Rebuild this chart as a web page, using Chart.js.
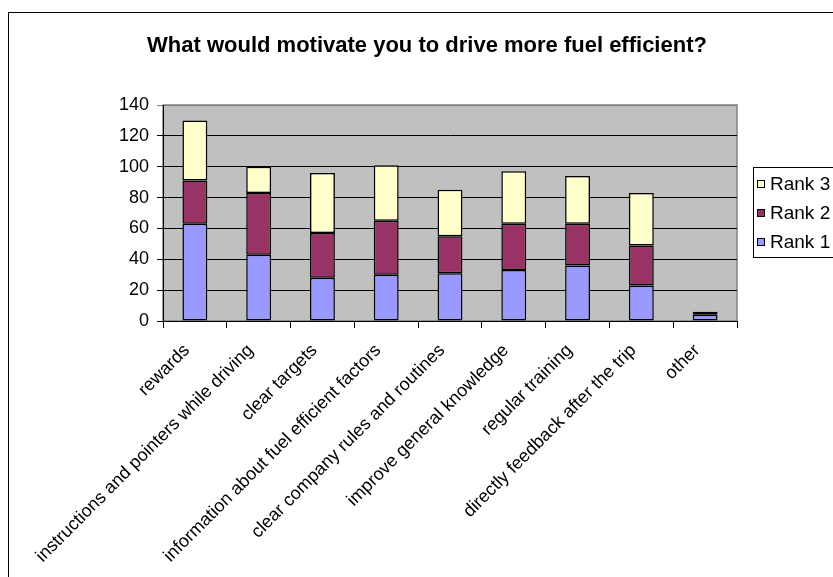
<!DOCTYPE html>
<html>
<head>
<meta charset="utf-8">
<script src="https://cdn.jsdelivr.net/npm/chart.js@4/dist/chart.umd.min.js"></script>
<style>
  html, body { margin: 0; padding: 0; background: #fff; }
  canvas { display: block; }
</style>
</head>
<body>
<canvas id="c" width="833" height="577"></canvas>
<script>
// Survey answers: how many drivers ranked each motivator 1st, 2nd or 3rd
const categories = [
  'rewards',
  'instructions and pointers while driving',
  'clear targets',
  'information about fuel efficient factors',
  'clear company rules and routines',
  'improve general knowledge',
  'regular training',
  'directly feedback after the trip',
  'other'
];
const rank1 = [63, 43, 28, 30, 31, 33, 36, 23, 4];
const rank2 = [28, 40, 29, 35, 24, 30, 27, 26, 2];
const rank3 = [39, 17, 39, 36, 30, 34, 31, 34, 0];
const seriesNames = ['Rank 1', 'Rank 2', 'Rank 3'];
const chartTitle = 'What would motivate you to drive more fuel efficient?';
const yMax = 140;
const yStep = 20;

const FONT = 'Liberation Sans, Arial, sans-serif';

// White page, grey plot area and the thin frame around the whole chart
const backdrop = {
  id: 'backdrop',
  beforeDraw(chart) {
    const { ctx, chartArea: a } = chart;
    ctx.save();
    ctx.fillStyle = '#fff';
    ctx.fillRect(0, 0, chart.width, chart.height);
    ctx.strokeStyle = '#000';
    ctx.lineWidth = 1;
    ctx.strokeRect(8.5, 12.5, chart.width + 20, chart.height + 20);
    ctx.fillStyle = '#C0C0C0';
    ctx.fillRect(a.left, a.top, a.right - a.left, a.bottom - a.top);
    ctx.strokeStyle = '#808080';
    ctx.lineWidth = 1.5;
    ctx.strokeRect(a.left, a.top, a.right - a.left, a.bottom - a.top);
    ctx.restore();
  }
};

// Bold heading, centred on the full chart frame (which runs past the right edge)
const heading = {
  id: 'heading',
  afterDraw(chart) {
    const { ctx } = chart;
    ctx.save();
    ctx.font = 'bold 22px ' + FONT;
    ctx.fillStyle = '#000';
    ctx.textAlign = 'center';
    ctx.textBaseline = 'alphabetic';
    ctx.fillText(chartTitle, 427, 52);
    ctx.restore();
  }
};

// Boxed legend at the right, series listed top-down from Rank 3
const sideLegend = {
  id: 'sideLegend',
  afterDraw(chart) {
    const { ctx } = chart;
    const boxX = 753.5, boxY = 167.5, boxH = 90;
    ctx.save();
    ctx.strokeStyle = '#000';
    ctx.lineWidth = 1;
    ctx.strokeRect(boxX, boxY, 120, boxH);
    ctx.font = '19px ' + FONT;
    ctx.textBaseline = 'middle';
    ctx.textAlign = 'left';
    const sets = chart.data.datasets.slice().reverse();
    sets.forEach((ds, i) => {
      const cy = 184 + i * 29;
      ctx.fillStyle = ds.backgroundColor;
      ctx.fillRect(757, cy - 3.5, 7, 7);
      ctx.strokeStyle = '#000';
      ctx.strokeRect(757.5, cy - 3.5, 7, 7);
      ctx.fillStyle = '#000';
      ctx.fillText(ds.label, 770, cy + 1);
    });
    ctx.restore();
  }
};

const barStyle = { borderColor: '#000', borderWidth: 1.5, borderSkipped: false,
  categoryPercentage: 1, barPercentage: 0.39 };

new Chart(document.getElementById('c'), {
  type: 'bar',
  data: {
    labels: categories,
    datasets: [
      { label: seriesNames[0], data: rank1, backgroundColor: '#9999FF', ...barStyle },
      { label: seriesNames[1], data: rank2, backgroundColor: '#993366', ...barStyle },
      { label: seriesNames[2], data: rank3, backgroundColor: '#FFFFCC', ...barStyle }
    ]
  },
  options: {
    responsive: false,
    animation: false,
    devicePixelRatio: 1,
    layout: { padding: { top: 105, left: 0, right: 96, bottom: 0 } },
    plugins: {
      legend: { display: false },
      tooltip: { enabled: false },
      title: { display: false }
    },
    scales: {
      x: {
        stacked: true,
        grid: { offset: true, drawOnChartArea: false, tickLength: 7, color: '#000' },
        border: { color: '#000', width: 1 },
        ticks: {
          autoSkip: false, minRotation: 45, maxRotation: 45,
          color: '#000', font: { family: FONT, size: 18 }, padding: 12, labelOffset: -8
        },
        afterFit(s) { s.height = 256; }
      },
      y: {
        stacked: true,
        min: 0,
        max: yMax,
        grid: {
          color: c => (c.tick && c.tick.value === yMax) ? '#808080' : '#000',
          tickLength: 6
        },
        border: { color: '#000', width: 1 },
        ticks: { stepSize: yStep, color: '#000', font: { family: FONT, size: 18 }, padding: 8 },
        afterFit(s) { s.width = 163; }
      }
    }
  },
  plugins: [backdrop, heading, sideLegend]
});
</script>
</body>
</html>
